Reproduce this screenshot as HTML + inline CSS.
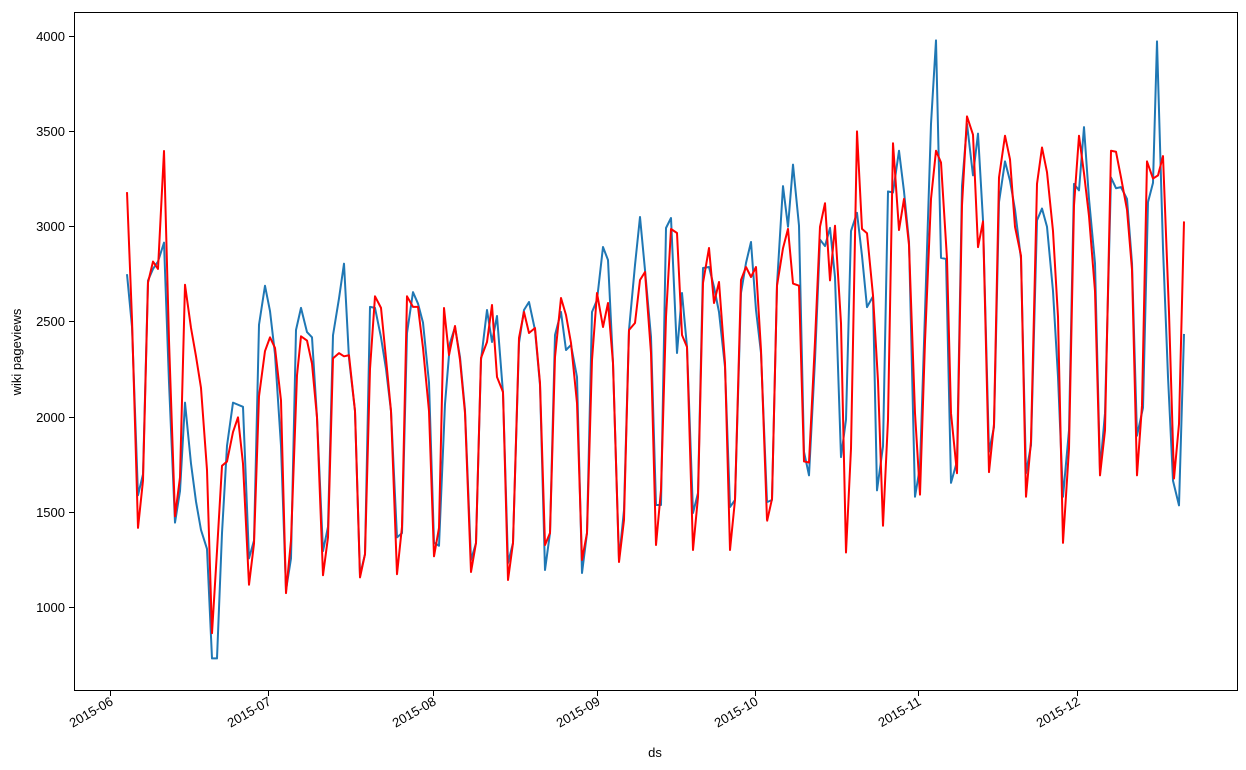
<!DOCTYPE html>
<html><head><meta charset="utf-8"><style>body{margin:0;background:#fff}svg{display:block}</style></head><body>
<svg width="1246" height="770" viewBox="0 0 1246 770" xmlns="http://www.w3.org/2000/svg" font-family="Liberation Sans, DejaVu Sans, sans-serif" font-size="13">
<rect width="1246" height="770" fill="#fff"/>
<g fill="none" stroke-width="2" stroke-linejoin="round">
<g transform="translate(0,130) scale(1,1.0526) translate(0,-130)">
<polyline vector-effect="non-scaling-stroke" stroke="#1f77b4" points="127,267 132,317 138,477 143,457 148,273 153,262 158,255 164,237 169,370 175,503 180,473 185,389 191,447 196,483 201,510 207,528 212,632 217,632 222,513 227,430 233,389 243,393 249,537 254,520 259,315 265,278 270,302 275,343 281,430 286,567 291,537 296,320 301,299 307,322 312,327 317,403 323,530 328,507 333,325 339,290 344,257 349,347 355,397 360,553 365,533 370,298 375,299 381,327 386,357 391,397 397,517 402,513 407,323 413,284 418,295 423,313 429,370 434,522 439,525 445,390"/>
<polyline vector-effect="non-scaling-stroke" stroke="#ff0000" points="127,189 132,310 138,508 143,463 148,275 153,255 158,262 164,150 169,330 175,497 180,460 185,277 191,318 196,345 201,375 207,453 212,608 217,530 222,449 227,445 233,417 238,403 243,447 249,562 254,523 259,383 265,340 270,327 275,337 281,387 286,570 291,520 297,363 301,326 307,330 312,352 317,403 323,553 328,517 333,347 339,342 344,345 349,344 355,397 360,555 365,533 370,357 375,288 381,299 386,347 391,397 397,552 402,507 407,288 413,298 418,298 423,337 429,397 434,535 439,508"/>
</g>
<polyline stroke="#1f77b4" points="445,404 450,343 455,327 460,357 465,410 471,560 476,543 481,360 487,310 492,342 497,316 503,393 508,563 513,543 519,343 524,310 529,302 535,330 540,385 545,570 550,533 555,335 561,312 566,350 571,345 577,377 582,573 587,533 592,312 597,300 603,247 608,260 613,363 619,560 624,510 629,330 635,265 640,217 645,270 651,337 656,505 661,505 666,228 671,218 677,353 682,293 687,347 693,513 698,493 703,268 709,267 714,287 719,312 725,367 730,507 735,500 741,293 746,263 751,242 756,310 761,353 767,502"/>
<polyline stroke="#ff0000" points="439,528 444,308 449,355 455,326 460,360 465,413 471,572 476,543 481,358 487,342 492,305 497,377 503,392 508,580 513,543 519,338 524,312 529,333 535,328 540,383 545,545 550,533 555,357 561,298 566,315 571,343 577,403 582,560 587,533 592,360 597,293 603,327 608,303 613,363 619,562 624,520 629,330 635,323 640,280 645,272 651,353 656,545 661,490 666,317 671,229 677,233 682,335 687,347 693,550 698,497 703,283 709,248 714,303 719,282 725,363 730,550 735,500 741,280 746,267 751,277 756,267 761,350 767,520"/>
<g transform="translate(0,20) scale(1,1.0714) translate(0,-20)">
<polyline vector-effect="non-scaling-stroke" stroke="#1f77b4" points="767,470 772,468 777,267 783,175 788,213 793,155 799,212 804,423 809,445 815,337 820,225 825,231 830,214 835,260 841,428 846,393 851,217 857,200 862,240 867,288 873,278 877,459 883,418 888,180 893,181 899,142 904,180 909,227 915,465 920,437 925,293 931,117 936,39 941,242 946,243 951,452 957,432 962,175 967,117 973,165 978,126 983,207 989,423 994,400 999,190 1005,152 1010,170 1015,197 1021,243 1026,443 1031,417 1037,207 1042,196 1047,213 1053,273 1058,353 1063,465 1069,403 1074,173 1079,179 1084,120 1089,187 1095,247 1100,440 1105,387 1111,167 1116,177 1121,176 1127,187 1132,247 1137,408 1143,382 1148,190 1153,172 1157,40 1163,233 1168,353 1173,450 1179,473 1184,313"/>
<polyline vector-effect="non-scaling-stroke" stroke="#ff0000" points="767,488 772,467 777,268 783,233 788,215 793,266 799,268 804,432 809,433 815,320 820,213 825,191 830,263 835,212 841,303 846,517 851,420 857,124 862,215 867,219 873,277 878,357 883,492 888,393 893,135 899,216 904,187 909,230 915,387 920,463 925,320 931,187 936,142 941,153 947,243 951,387 957,443 962,193 967,110 973,127 978,232 983,208 989,442 994,397 999,167 1005,128 1010,150 1015,213 1021,240 1026,465 1031,413 1037,173 1042,139 1047,162 1053,217 1058,297 1063,508 1069,420 1074,193 1079,128 1084,163 1089,203 1095,273 1100,445 1105,403 1111,142 1116,143 1121,167 1127,197 1132,253 1137,445 1142,380 1147,152 1153,168 1158,165 1163,147 1169,293 1174,448 1179,397 1184,208"/>
</g>
</g>
<rect x="74.5" y="12.5" width="1163" height="678" fill="none" stroke="#000" stroke-width="1"/>
<g stroke="#000" stroke-width="1">
<line x1="69" y1="607.5" x2="74" y2="607.5"/><line x1="69" y1="512.5" x2="74" y2="512.5"/><line x1="69" y1="417.5" x2="74" y2="417.5"/><line x1="69" y1="321.5" x2="74" y2="321.5"/><line x1="69" y1="226.5" x2="74" y2="226.5"/><line x1="69" y1="131.5" x2="74" y2="131.5"/><line x1="69" y1="36.5" x2="74" y2="36.5"/>
<line x1="110.5" y1="691" x2="110.5" y2="696"/><line x1="268.5" y1="691" x2="268.5" y2="696"/><line x1="433.5" y1="691" x2="433.5" y2="696"/><line x1="597.5" y1="691" x2="597.5" y2="696"/><line x1="755.5" y1="691" x2="755.5" y2="696"/><line x1="918.5" y1="691" x2="918.5" y2="696"/><line x1="1077.5" y1="691" x2="1077.5" y2="696"/>
</g>
<g text-anchor="end" fill="#000">
<text x="65" y="612">1000</text><text x="65" y="517">1500</text><text x="65" y="422">2000</text><text x="65" y="326">2500</text><text x="65" y="231">3000</text><text x="65" y="136">3500</text><text x="65" y="41">4000</text>
<text transform="translate(114,704) rotate(-30)">2015-06</text>
<text transform="translate(272,704) rotate(-30)">2015-07</text>
<text transform="translate(437,704) rotate(-30)">2015-08</text>
<text transform="translate(601,704) rotate(-30)">2015-09</text>
<text transform="translate(759,704) rotate(-30)">2015-10</text>
<text transform="translate(922,704) rotate(-30)">2015-11</text>
<text transform="translate(1081,704) rotate(-30)">2015-12</text>
</g>
<text x="655" y="757" text-anchor="middle">ds</text>
<text transform="translate(21,352) rotate(-90)" text-anchor="middle">wiki pageviews</text>
</svg>
</body></html>
